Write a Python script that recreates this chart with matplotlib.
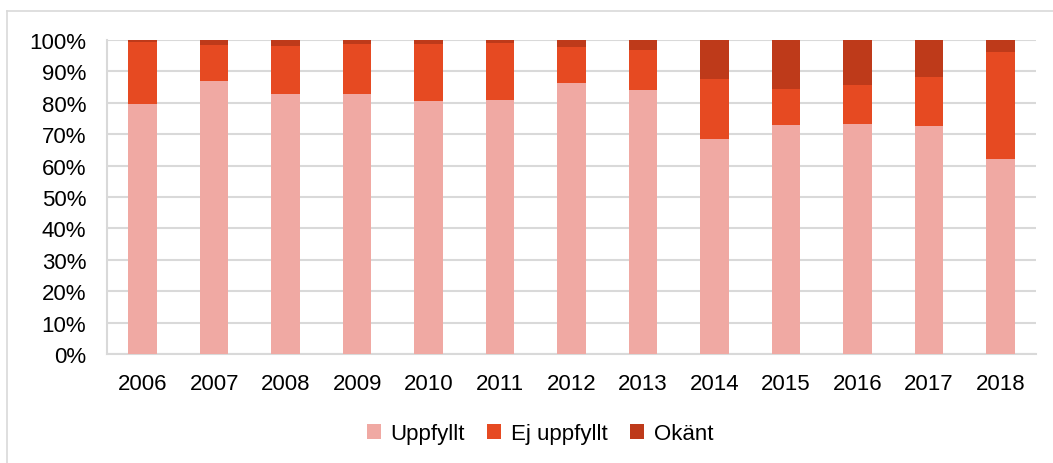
import matplotlib.pyplot as plt
import numpy as np
from matplotlib.lines import Line2D

years = ["2006", "2007", "2008", "2009", "2010", "2011", "2012",
         "2013", "2014", "2015", "2016", "2017", "2018"]
uppfyllt = [79.6, 86.8, 82.8, 82.9, 80.5, 80.9, 86.3, 84.1, 68.5, 72.9, 73.2, 72.6, 62.1]
ej_uppfyllt = [19.9, 11.6, 15.4, 15.8, 18.1, 18.0, 11.4, 12.7, 19.1, 11.4, 12.4, 15.6, 34.0]
okant = [0.5, 1.6, 1.8, 1.3, 1.4, 1.1, 2.3, 3.2, 12.4, 15.7, 14.4, 11.8, 3.9]

plt.rcParams['font.family'] = ['Liberation Sans', 'DejaVu Sans']

fig = plt.figure(figsize=(10.53, 4.64), dpi=100)
ax = fig.add_axes([0.1016, 0.2349, 0.8823, 0.6767])

x = np.arange(len(years))
w = 0.4
u = np.array(uppfyllt)
e = np.array(ej_uppfyllt)
o = np.array(okant)
ax.bar(x, u, w, color="#F0A9A3", label="Uppfyllt", zorder=3)
ax.bar(x, e, w, bottom=u, color="#E64A22", label="Ej uppfyllt", zorder=3)
ax.bar(x, o, w, bottom=u + e, color="#BE3A1A", label="Okänt", zorder=3)

ax.set_xlim(-0.5, len(years) - 0.5)
ax.set_ylim(0, 100)
ax.set_yticks(np.arange(0, 101, 10))
ax.set_yticklabels([f"{v}%" for v in range(0, 101, 10)])
ax.set_xticks(x)
ax.set_xticklabels(years)
ax.tick_params(length=0, labelsize=16, colors="black")
ax.tick_params(axis="x", pad=14)
ax.tick_params(axis="y", pad=15)
ax.grid(axis="y", color="#D9D9D9", linewidth=1.5, zorder=0)
for side in ["top", "right"]:
    ax.spines[side].set_visible(False)
for side in ["left", "bottom"]:
    ax.spines[side].set_color("#D9D9D9")
    ax.spines[side].set_linewidth(1.5)

fig.legend(loc="center", bbox_to_anchor=(0.513, 0.0625), ncol=3, frameon=False,
           fontsize=16, handlelength=0.63, handleheight=0.63,
           handletextpad=0.45, columnspacing=1.0)

# light frame around the chart (top and left edges visible)
fig.add_artist(Line2D([7 / 1053, 1.0], [1 - 12 / 464, 1 - 12 / 464],
                      transform=fig.transFigure, color="#D9D9D9", linewidth=1.2))
fig.add_artist(Line2D([7 / 1053, 7 / 1053], [0.0, 1 - 12 / 464],
                      transform=fig.transFigure, color="#D9D9D9", linewidth=1.2))

fig.savefig("out.png", dpi=100)
